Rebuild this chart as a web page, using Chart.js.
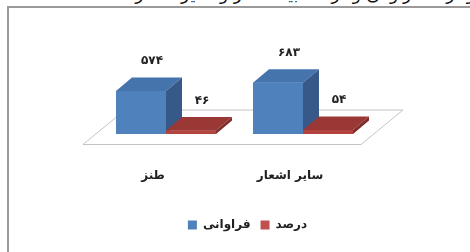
<!DOCTYPE html>
<html lang="fa">
<head>
<meta charset="utf-8">
<script src="https://cdn.jsdelivr.net/npm/chart.js@4.4.1/dist/chart.umd.min.js"></script>
<style>
  html, body { margin: 0; padding: 0; background: #fff; }
  body { width: 470px; height: 252px; overflow: hidden; position: relative; }
  #caption {
    position: absolute; top: -16px; right: -20px; white-space: nowrap;
    direction: rtl; font: 17px "DejaVu Sans", sans-serif; color: #111;
  }
  #frame {
    position: absolute; left: 7px; top: 6px; width: 520px; height: 300px;
    border: 2px solid #9a9a9a;
  }
  #chart { position: absolute; left: 0; top: 0; }
</style>
</head>
<body>
<div id="caption">نمودار ۲: فراوانی و درصد ابیات طنز و سایر اشعار</div>
<div id="frame"></div>
<canvas id="chart" width="470" height="252"></canvas>
<script>
// data
const categories = ["طنز", "سایر اشعار"];
const seriesNames = ["فراوانی", "درصد"];
const frequency = [574, 683];
const percent = [46, 54];
const yMax = 1000;

// colours: front, top, side
const frontColors = ["#4f81bd", "#b2433f"];
const topColors = ["#4574ad", "#9a3835"];
const sideColors = ["#36598a", "#7e2d2b"];
const legendColors = ["#4f81bd", "#c0504d"];

const depthX = 16, depthY = 13.5;
const fontFamily = "'DejaVu Sans', sans-serif";

function faDigits(n) {
  const d = "۰۱۲۳۴۵۶۷۸۹";
  return String(n).replace(/[0-9]/g, c => d[c]);
}

function poly(ctx, pts, fill, stroke) {
  ctx.beginPath();
  ctx.moveTo(pts[0][0], pts[0][1]);
  for (let i = 1; i < pts.length; i++) ctx.lineTo(pts[i][0], pts[i][1]);
  ctx.closePath();
  if (fill) { ctx.fillStyle = fill; ctx.fill(); }
  if (stroke) { ctx.strokeStyle = stroke; ctx.lineWidth = 1; ctx.stroke(); }
}

// fake 3d: floor, bar tops/sides, value labels
const bar3d = {
  id: "bar3d",
  beforeDatasetsDraw(chart) {
    const ctx = chart.ctx;
    const L = chart.chartArea.left, R = chart.chartArea.right;
    const B = chart.scales.y.getPixelForValue(0);
    ctx.save();
    poly(ctx, [[L - 14.5, B + 10.5], [R - 10.5, B + 10.5], [R + 31.5, B - 24], [L + 27.5, B - 24]], "#fff", "#c4c4c4");
    ctx.restore();
  },
  afterDatasetsDraw(chart) {
    const ctx = chart.ctx;
    ctx.save();
    chart.data.datasets.forEach((ds, di) => {
      chart.getDatasetMeta(di).data.forEach(bar => {
        const { x, y, base, width } = bar.getProps(["x", "y", "base", "width"], true);
        const l = x - width / 2, r = x + width / 2;
        poly(ctx, [[l, y], [r, y], [r, base], [l, base]], frontColors[di]);
        poly(ctx, [[l, y], [r, y], [r + depthX, y - depthY], [l + depthX, y - depthY]], topColors[di]);
        poly(ctx, [[r, y], [r + depthX, y - depthY], [r + depthX, base - depthY], [r, base]], sideColors[di]);
      });
    });
    ctx.font = "bold 12px " + fontFamily;
    ctx.fillStyle = "#222";
    ctx.textAlign = "center";
    ctx.textBaseline = "middle";
    chart.data.datasets.forEach((ds, di) => {
      chart.getDatasetMeta(di).data.forEach((bar, i) => {
        ctx.fillText(faDigits(ds.data[i]), bar.x + 11, bar.y - 30);
      });
    });
    ctx.restore();
  }
};

new Chart(document.getElementById("chart"), {
  type: "bar",
  data: {
    labels: categories,
    datasets: [
      { label: seriesNames[0], data: frequency, backgroundColor: legendColors[0] },
      { label: seriesNames[1], data: percent, backgroundColor: legendColors[1] }
    ]
  },
  options: {
    responsive: false,
    animation: false,
    devicePixelRatio: 1,
    categoryPercentage: 0.73,
    barPercentage: 1,
    layout: { padding: { left: 97.5, right: 72.5, top: 59, bottom: 11 } },
    scales: {
      x: {
        grid: { display: false, drawTicks: false },
        border: { display: false },
        ticks: {
          padding: 35,
          labelOffset: -13,
          color: "#222",
          font: { family: fontFamily, size: 12, weight: "bold" }
        },
        afterFit(scale) { scale.height = 75; }
      },
      y: {
        position: "right",
        min: 0,
        max: yMax,
        grid: { display: false, drawTicks: false },
        border: { display: false },
        ticks: { display: false },
        afterFit(scale) { scale.width = 26; }
      }
    },
    plugins: {
      tooltip: { enabled: false },
      legend: {
        position: "bottom",
        labels: {
          boxWidth: 9,
          boxHeight: 9,
          padding: 10,
          color: "#222",
          font: { family: fontFamily, size: 12, weight: "bold" }
        }
      }
    }
  },
  plugins: [bar3d]
});
</script>
</body>
</html>
